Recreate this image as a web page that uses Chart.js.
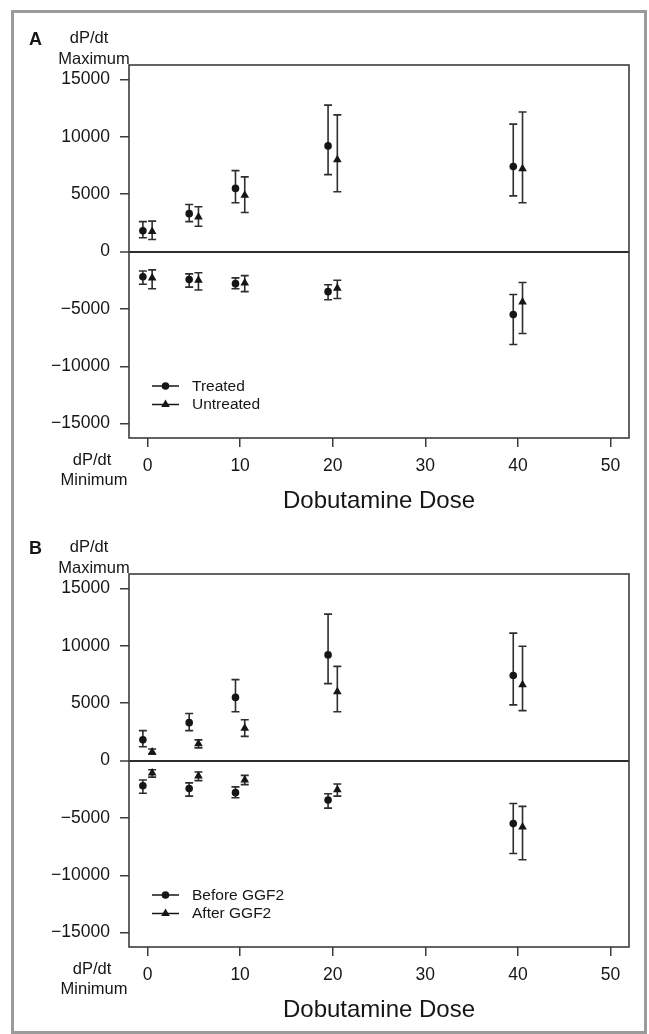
<!DOCTYPE html>
<html><head><meta charset="utf-8">
<script src="https://cdn.jsdelivr.net/npm/chart.js@4.4.1/dist/chart.umd.min.js"></script>
<style>
html,body{margin:0;padding:0;background:#fff;}
body{width:649px;height:1034px;position:relative;overflow:hidden;}
#frame{position:absolute;left:11px;top:10px;width:636px;height:1024px;box-sizing:border-box;border:3px solid #9b9b9b;}
.wrap{position:absolute;left:0;width:649px;height:517px;}
#wa{top:0}
#wb{top:509px}
canvas{display:block}
</style></head><body>
<div id="frame"></div>
<div class="wrap" id="wa"><canvas id="ca" width="649" height="517"></canvas></div>
<div class="wrap" id="wb"><canvas id="cb" width="649" height="517"></canvas></div>
<script>
// ---------- data ----------
const doses = [0, 5, 10, 20, 40];
const xTickValues = [0, 10, 20, 30, 40, 50];
const yTickValues = [-15000, -10000, -5000, 0, 5000, 10000, 15000];
const xTitle = 'Dobutamine Dose';
const yTopLabel = ['dP/dt', 'Maximum'];
const yBottomLabel = ['dP/dt', 'Minimum'];

// Panel A
const panelALetter = 'A';
const panelANames = ['Treated', 'Untreated'];
const treatedMax   = [1800, 3300, 5500, 9200, 7400];
const treatedMaxLo = [1200, 2600, 4250, 6700, 4850];
const treatedMaxHi = [2600, 4100, 7050, 12750, 11100];
const treatedMin   = [-2200, -2450, -2800, -3500, -5500];
const treatedMinHi = [-1700, -1950, -2300, -2900, -3750];
const treatedMinLo = [-2850, -3100, -3250, -4200, -8100];
const untreatedMax   = [1750, 3000, 4900, 8000, 7200];
const untreatedMaxLo = [1050, 2200, 3400, 5200, 4250];
const untreatedMaxHi = [2650, 3900, 6500, 11900, 12150];
const untreatedMin   = [-2300, -2500, -2750, -3200, -4400];
const untreatedMinHi = [-1600, -1850, -2100, -2500, -2700];
const untreatedMinLo = [-3250, -3350, -3500, -4100, -7150];

// Panel B
const panelBLetter = 'B';
const panelBNames = ['Before GGF2', 'After GGF2'];
const beforeMax   = [1800, 3300, 5500, 9200, 7400];
const beforeMaxLo = [1200, 2600, 4250, 6700, 4850];
const beforeMaxHi = [2600, 4100, 7050, 12750, 11100];
const beforeMin   = [-2200, -2450, -2800, -3450, -5500];
const beforeMinHi = [-1700, -1950, -2300, -2900, -3750];
const beforeMinLo = [-2850, -3100, -3250, -4150, -8100];
const afterMax   = [750, 1450, 2800, 6000, 6600];
const afterMaxLo = [550, 1100, 2100, 4250, 4350];
const afterMaxHi = [1000, 1800, 3550, 8200, 9950];
const afterMin   = [-1100, -1350, -1700, -2550, -5800];
const afterMinHi = [-800, -1000, -1300, -2050, -4000];
const afterMinLo = [-1450, -1750, -2100, -3100, -8650];

// ---------- styling ----------
const FONT = "'Liberation Sans', Arial, Helvetica, sans-serif";
const INK = '#161616';
const AXIS = '#3c3c3c';
const dodge = [-0.5, 0.5];
const styles = [
  {pointStyle: 'circle', radius: 3.8},
  {pointStyle: 'triangle', radius: 5}
];

function drawMarker(ctx, style, x, y, r) {
  ctx.beginPath();
  if (style === 'circle') {
    ctx.arc(x, y, r, 0, Math.PI * 2);
  } else {
    for (let k = 0; k < 3; k++) {
      const a = -Math.PI / 2 + k * 2 * Math.PI / 3;
      const px = x + Math.cos(a) * r, py = y + Math.sin(a) * r;
      if (k === 0) ctx.moveTo(px, py); else ctx.lineTo(px, py);
    }
    ctx.closePath();
  }
  ctx.fillStyle = INK;
  ctx.fill();
}

function buildDataset(name, idx, maxV, maxLo, maxHi, minV, minHi, minLo) {
  const pts = [], lo = [], hi = [];
  doses.forEach((d, i) => { pts.push({x: d + dodge[idx], y: maxV[i]}); lo.push(maxLo[i]); hi.push(maxHi[i]); });
  doses.forEach((d, i) => { pts.push({x: d + dodge[idx], y: minV[i]}); lo.push(minLo[i]); hi.push(minHi[i]); });
  return {
    label: name,
    data: pts,
    errLo: lo,
    errHi: hi,
    showLine: false,
    pointStyle: styles[idx].pointStyle,
    pointRadius: styles[idx].radius,
    pointHoverRadius: styles[idx].radius,
    backgroundColor: INK,
    borderColor: INK,
    borderWidth: 0
  };
}

function makeChart(canvasId, letter, datasets) {
  const plugin = {
    id: 'decor_' + canvasId,
    beforeDatasetsDraw(chart) {
      const ctx = chart.ctx, xs = chart.scales.x, ys = chart.scales.y;
      ctx.save();
      ctx.strokeStyle = '#2e2e2e';
      ctx.lineWidth = 1.6;
      chart.data.datasets.forEach(ds => {
        ds.data.forEach((p, i) => {
          const px = xs.getPixelForValue(p.x);
          const y1 = ys.getPixelForValue(ds.errLo[i]);
          const y2 = ys.getPixelForValue(ds.errHi[i]);
          ctx.beginPath();
          ctx.moveTo(px, y1); ctx.lineTo(px, y2);
          ctx.moveTo(px - 4, y1); ctx.lineTo(px + 4, y1);
          ctx.moveTo(px - 4, y2); ctx.lineTo(px + 4, y2);
          ctx.stroke();
        });
      });
      ctx.restore();
    },
    afterDraw(chart) {
      const ctx = chart.ctx, a = chart.chartArea;
      ctx.save();
      // plot box
      ctx.strokeStyle = AXIS;
      ctx.lineWidth = 1.6;
      ctx.strokeRect(a.left, a.top, a.right - a.left, a.bottom - a.top);
      // panel letter
      ctx.fillStyle = INK;
      ctx.textBaseline = 'alphabetic';
      ctx.textAlign = 'left';
      ctx.font = "bold 18px " + FONT;
      ctx.fillText(letter, 29, 45);
      // axis side labels
      ctx.font = "16.5px " + FONT;
      ctx.textAlign = 'center';
      ctx.fillText(yTopLabel[0], 89, 43);
      ctx.fillText(yTopLabel[1], 94, 63.5);
      ctx.fillText(yBottomLabel[0], 92, 464.5);
      ctx.fillText(yBottomLabel[1], 94, 485);
      // legend
      ctx.font = "15.5px " + FONT;
      ctx.textAlign = 'left';
      ctx.textBaseline = 'middle';
      chart.data.datasets.forEach((ds, i) => {
        const y = 386 + i * 18.5;
        ctx.strokeStyle = INK;
        ctx.lineWidth = 1.5;
        ctx.beginPath(); ctx.moveTo(152, y); ctx.lineTo(179, y); ctx.stroke();
        drawMarker(ctx, ds.pointStyle, 165.5, y, ds.pointRadius);
        ctx.fillStyle = INK;
        ctx.fillText(ds.label, 192, y + 0.5);
      });
      ctx.restore();
    }
  };

  return new Chart(document.getElementById(canvasId), {
    type: 'scatter',
    data: {datasets: datasets},
    options: {
      responsive: false,
      animation: false,
      events: [],
      layout: {padding: {left: 0, top: 65, right: 20, bottom: 0}},
      plugins: {legend: {display: false}, tooltip: {enabled: false}},
      scales: {
        x: {
          type: 'linear', position: 'bottom', min: -2, max: 52,
          afterBuildTicks: s => { s.ticks = xTickValues.map(v => ({value: v})); },
          afterFit: s => { s.height = 79; },
          border: {display: false},
          grid: {drawOnChartArea: false, drawTicks: true, tickLength: 9, color: AXIS, tickColor: AXIS, lineWidth: 1.5},
          ticks: {color: INK, padding: 8.5, font: {family: FONT, size: 17.5}, maxRotation: 0, callback: v => String(v)},
          title: {display: true, text: xTitle, color: INK, font: {family: FONT, size: 24}, padding: {top: 0, bottom: 1}}
        },
        y: {
          type: 'linear', position: 'left', min: -16250, max: 16250,
          afterBuildTicks: s => { s.ticks = yTickValues.map(v => ({value: v})); },
          afterFit: s => { s.width = 129; },
          border: {display: false},
          grid: {
            drawOnChartArea: true, drawTicks: true, tickLength: 9,
            color: c => (c.tick && c.tick.value === 0) ? '#2e2e2e' : 'rgba(0,0,0,0)',
            tickColor: AXIS,
            lineWidth: c => (c.tick && c.tick.value === 0) ? 2 : 1.5,
            tickWidth: 1.5
          },
          ticks: {color: INK, padding: 10, font: {family: FONT, size: 17.5},
                  callback: v => v < 0 ? '\u2212' + Math.abs(v) : String(v)}
        }
      }
    },
    plugins: [plugin]
  });
}

makeChart('ca', panelALetter, [
  buildDataset(panelANames[0], 0, treatedMax, treatedMaxLo, treatedMaxHi, treatedMin, treatedMinHi, treatedMinLo),
  buildDataset(panelANames[1], 1, untreatedMax, untreatedMaxLo, untreatedMaxHi, untreatedMin, untreatedMinHi, untreatedMinLo)
]);
makeChart('cb', panelBLetter, [
  buildDataset(panelBNames[0], 0, beforeMax, beforeMaxLo, beforeMaxHi, beforeMin, beforeMinHi, beforeMinLo),
  buildDataset(panelBNames[1], 1, afterMax, afterMaxLo, afterMaxHi, afterMin, afterMinHi, afterMinLo)
]);
</script>
</body></html>
